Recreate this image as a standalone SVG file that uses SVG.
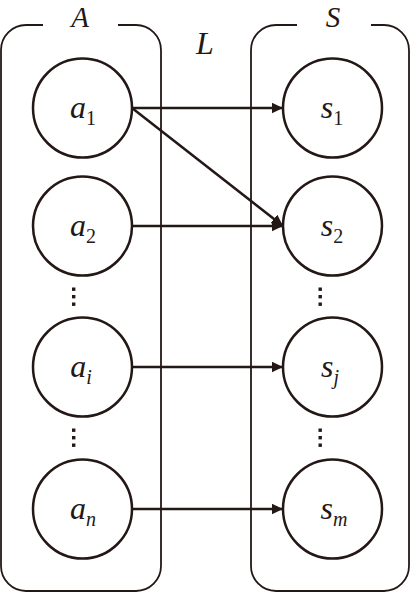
<svg xmlns="http://www.w3.org/2000/svg" width="411" height="593" viewBox="0 0 411 593">
<style>
.box{fill:none;stroke:#231815;stroke-width:1.8}
.node{fill:#fff;stroke:#231815;stroke-width:2.5}
.lbl{font-family:"Liberation Serif",serif;font-style:italic;font-size:32px;fill:#231815;text-anchor:middle}
.top{font-size:29px}
.sub{font-style:normal;font-size:20px}
.it{font-style:italic}
.edge{stroke:#231815;stroke-width:2.5;fill:none;marker-end:url(#ah)}
.dot{fill:#231815}
</style>
<defs>
<marker id="ah" markerUnits="userSpaceOnUse" markerWidth="12" markerHeight="11" refX="11.5" refY="5.5" orient="auto">
<path d="M0,0 L11.5,5.5 L0,11 z" fill="#231815"/>
</marker>
</defs>
<g id="group-A">
<path class="box" d="M43,25 H26 A25,25 0 0 0 1,50 V566 A25,25 0 0 0 26,591 H136 A25,25 0 0 0 161,566 V50 A25,25 0 0 0 136,25 H118"/>
<text class="lbl top" x="80" y="27">A</text>
</g>
<g id="group-S">
<path class="box" d="M297,25 H276 A25,25 0 0 0 251,50 V566 A25,25 0 0 0 276,591 H384 A25,25 0 0 0 409,566 V50 A25,25 0 0 0 384,25 H371"/>
<text class="lbl top" x="333" y="27">S</text>
</g>
<text id="label-L" class="lbl" x="205" y="54">L</text>
<g id="connectors">
<line class="edge" x1="132" y1="108" x2="283" y2="108"/>
<line class="edge" x1="132" y1="108" x2="283" y2="226"/>
<line class="edge" x1="132" y1="226" x2="283" y2="226"/>
<line class="edge" x1="132" y1="367" x2="283" y2="367"/>
<line class="edge" x1="132" y1="509" x2="283" y2="509"/>
</g>
<g id="a1"><circle class="node" cx="82.5" cy="108" r="49.5"/><text class="lbl" x="83" y="118">a<tspan class="sub" dy="7">1</tspan></text></g>
<g id="a2"><circle class="node" cx="82.5" cy="226" r="49.5"/><text class="lbl" x="83" y="236">a<tspan class="sub" dy="7">2</tspan></text></g>
<g id="ai"><circle class="node" cx="82.5" cy="367" r="49.5"/><text class="lbl" x="81" y="377">a<tspan class="sub it" dy="7">i</tspan></text></g>
<g id="an"><circle class="node" cx="82.5" cy="509" r="49.5"/><text class="lbl" x="83" y="519">a<tspan class="sub it" dy="7">n</tspan></text></g>
<g id="s1"><circle class="node" cx="332.5" cy="108" r="49.5"/><text class="lbl" x="332" y="118">s<tspan class="sub" dy="7">1</tspan></text></g>
<g id="s2"><circle class="node" cx="332.5" cy="226" r="49.5"/><text class="lbl" x="332" y="236">s<tspan class="sub" dy="7">2</tspan></text></g>
<g id="sj"><circle class="node" cx="332.5" cy="367" r="49.5"/><text class="lbl" x="330" y="377">s<tspan class="sub it" dy="7">j</tspan></text></g>
<g id="sm"><circle class="node" cx="332.5" cy="509" r="49.5"/><text class="lbl" x="334" y="519">s<tspan class="sub it" dy="7">m</tspan></text></g>
<g id="dots">
<rect class="dot" x="72" y="287.5" width="3.4" height="3.4"/><rect class="dot" x="72" y="295" width="3.4" height="3.4"/><rect class="dot" x="72" y="302.5" width="3.4" height="3.4"/>
<rect class="dot" x="72" y="428.5" width="3.4" height="3.4"/><rect class="dot" x="72" y="436" width="3.4" height="3.4"/><rect class="dot" x="72" y="443.5" width="3.4" height="3.4"/>
<rect class="dot" x="318.5" y="287.5" width="3.4" height="3.4"/><rect class="dot" x="318.5" y="295" width="3.4" height="3.4"/><rect class="dot" x="318.5" y="302.5" width="3.4" height="3.4"/>
<rect class="dot" x="318.5" y="428.5" width="3.4" height="3.4"/><rect class="dot" x="318.5" y="436" width="3.4" height="3.4"/><rect class="dot" x="318.5" y="443.5" width="3.4" height="3.4"/>
</g>
</svg>
